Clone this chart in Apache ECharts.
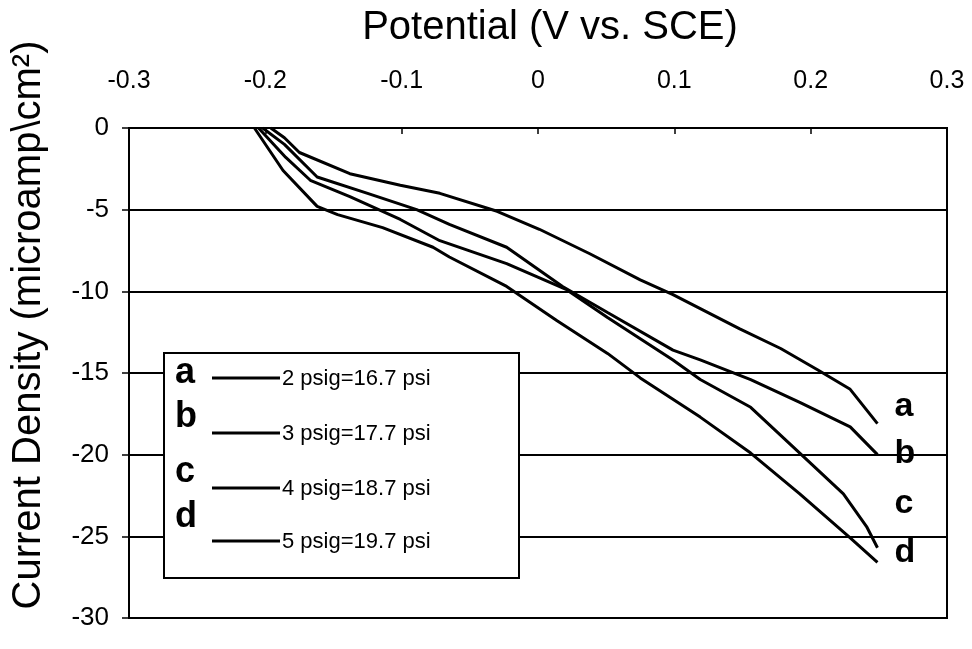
<!DOCTYPE html>
<html>
<head>
<meta charset="utf-8">
<script src="https://cdn.jsdelivr.net/npm/echarts@6/dist/echarts.min.js"></script>
<style>
html,body{margin:0;padding:0;background:#fff;}
#chart{width:972px;height:649px;}
</style>
</head>
<body>
<div id="chart"></div>
<script>
// Potential (V vs. SCE), Current density (microamp/cm2)
const curveA = [[-0.196,0],[-0.186,-0.6],[-0.175,-1.5],[-0.138,-2.8],[-0.101,-3.5],[-0.072,-4.0],[-0.030,-5.1],[0.001,-6.2],[0.038,-7.7],[0.075,-9.3],[0.099,-10.2],[0.148,-12.3],[0.178,-13.5],[0.205,-14.8],[0.229,-16.0],[0.249,-18.1]];
const curveB = [[-0.202,0],[-0.186,-1.0],[-0.162,-3.0],[-0.125,-4.0],[-0.089,-5.0],[-0.065,-5.9],[-0.023,-7.3],[0.018,-9.7],[0.051,-11.3],[0.099,-13.6],[0.119,-14.2],[0.156,-15.4],[0.192,-16.8],[0.229,-18.3],[0.249,-20.0]];
const curveC = [[-0.205,0],[-0.185,-1.8],[-0.167,-3.2],[-0.138,-4.2],[-0.101,-5.6],[-0.072,-6.9],[-0.023,-8.3],[0.021,-9.9],[0.051,-11.6],[0.099,-14.2],[0.119,-15.4],[0.156,-17.1],[0.192,-19.9],[0.224,-22.4],[0.241,-24.4],[0.249,-25.7]];
const curveD = [[-0.208,0],[-0.187,-2.6],[-0.162,-4.8],[-0.147,-5.3],[-0.114,-6.1],[-0.077,-7.3],[-0.065,-7.9],[-0.023,-9.7],[0.014,-11.8],[0.051,-13.8],[0.075,-15.3],[0.119,-17.7],[0.156,-19.9],[0.192,-22.4],[0.229,-25.1],[0.249,-26.6]];
const seriesLetters = ['a','b','c','d'];
const legendLabels = ['2 psig=16.7 psi','3 psig=17.7 psi','4 psig=18.7 psi','5 psig=19.7 psi'];
const xTicks = [-0.3,-0.2,-0.1,0,0.1,0.2,0.3];
const yTicks = [0,-5,-10,-15,-20,-25,-30];

const FONT = 'Liberation Sans, Arial, sans-serif';
const curves = [curveA, curveB, curveC, curveD];
const endOffsets = [[17,-17],[17,-1],[17,-44],[17,-10]];

const chart = echarts.init(document.getElementById('chart'));

const series = curves.map((d, i) => ({
  type: 'line',
  name: seriesLetters[i],
  data: d,
  showSymbol: false,
  smooth: false,
  lineStyle: {color: '#000', width: 3},
  itemStyle: {color: '#000'},
  z: 3,
  endLabel: {
    show: true,
    formatter: seriesLetters[i],
    distance: 0,
    offset: endOffsets[i],
    color: '#000',
    fontFamily: FONT,
    fontWeight: 'bold',
    fontSize: 34,
    align: 'left',
    verticalAlign: 'middle'
  }
}));

// Legend box built with graphic elements
const legendX = 164, legendY = 353, legendW = 355, legendH = 225;
const letterY = [391, 435, 490, 535];
const lineY = [378, 433, 488, 541];
const graphics = [{
  type: 'rect', z: 10,
  shape: {x: legendX, y: legendY, width: legendW, height: legendH},
  style: {fill: '#fff', stroke: '#000', lineWidth: 2}
}];
seriesLetters.forEach((l, i) => {
  graphics.push({type: 'text', z: 11, x: 175, y: letterY[i],
    style: {text: l, fill: '#000', font: 'bold 36px ' + FONT, textAlign: 'left', textVerticalAlign: 'bottom'}});
  graphics.push({type: 'line', z: 11, shape: {x1: 212, y1: lineY[i], x2: 280, y2: lineY[i]},
    style: {stroke: '#000', lineWidth: 3}});
  graphics.push({type: 'text', z: 11, x: 282, y: lineY[i] + 1,
    style: {text: legendLabels[i], fill: '#000', font: '22px ' + FONT, textAlign: 'left', textVerticalAlign: 'middle'}});
});

chart.setOption({
  animation: false,
  backgroundColor: '#fff',
  grid: {left: 129, right: 25, top: 128, bottom: 31, show: true, borderColor: '#000', borderWidth: 2, backgroundColor: 'transparent'},
  xAxis: {
    type: 'value', position: 'top',
    min: xTicks[0], max: xTicks[xTicks.length - 1], interval: 0.1,
    name: 'Potential (V vs. SCE)', nameLocation: 'middle', nameGap: 80,
    nameTextStyle: {fontFamily: FONT, fontSize: 40, color: '#000', padding: [0, 0, 0, 24]},
    axisLine: {show: true, onZero: false, lineStyle: {color: '#000', width: 2}},
    axisTick: {show: true, inside: true, length: 6, lineStyle: {color: '#000', width: 1.5}},
    axisLabel: {fontFamily: FONT, fontSize: 25, color: '#000', margin: 34,
      formatter: v => { const r = Math.round(v * 10) / 10; return r === 0 ? '0' : r.toFixed(1); }},
    splitLine: {show: false}
  },
  yAxis: {
    type: 'value', position: 'left',
    min: yTicks[yTicks.length - 1], max: yTicks[0], interval: 5,
    name: 'Current Density (microamp\\cm²)', nameLocation: 'middle', nameGap: 80,
    nameTextStyle: {fontFamily: FONT, fontSize: 40, color: '#000', padding: [0, 0, 0, 96]},
    axisLine: {show: true, onZero: false, lineStyle: {color: '#000', width: 2}},
    axisTick: {show: true, inside: false, length: 7, lineStyle: {color: '#000', width: 1.5}},
    axisLabel: {fontFamily: FONT, fontSize: 26, color: '#000', margin: 20},
    splitLine: {show: true, lineStyle: {color: '#000', width: 2}}
  },
  series: series,
  graphic: graphics
});
</script>
</body>
</html>
